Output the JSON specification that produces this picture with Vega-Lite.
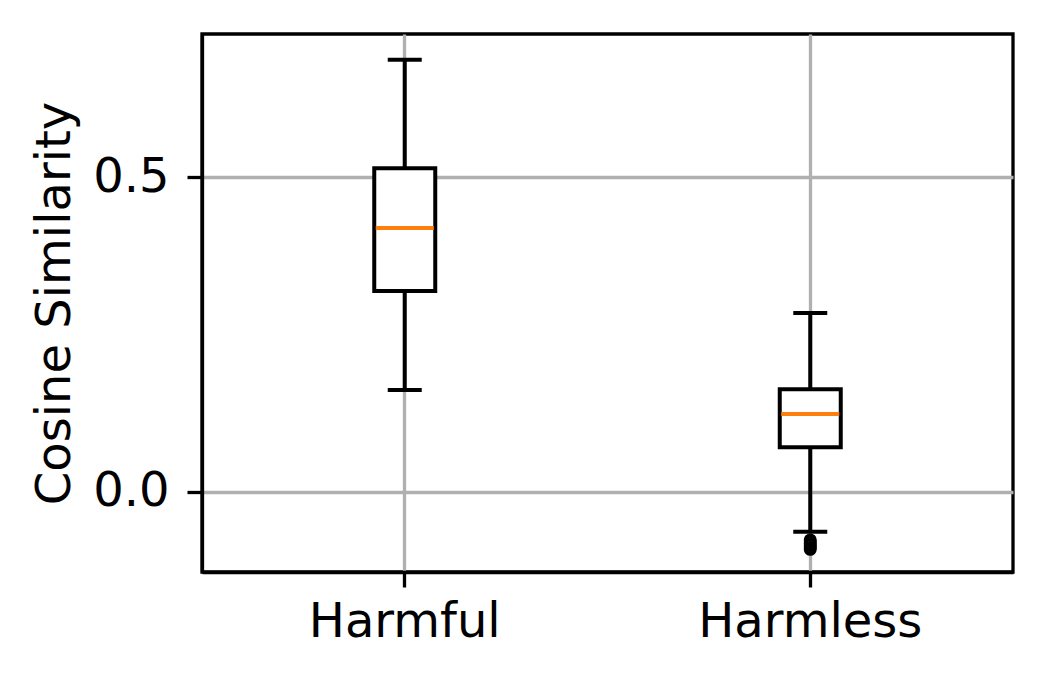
{
  "$schema": "https://vega.github.io/schema/vega-lite/v6.json",
  "width": 811,
  "height": 538,
  "autosize": {"type": "none"},
  "padding": {"left": 202, "top": 34, "right": 35, "bottom": 116},
  "background": "white",
  "config": {
    "view": {"stroke": "black", "strokeWidth": 3.3},
    "font": "DejaVu Sans",
    "axis": {
      "labelFont": "DejaVu Sans",
      "titleFont": "DejaVu Sans",
      "labelFontSize": 48,
      "titleFontSize": 48,
      "titleFontWeight": "normal",
      "labelColor": "black",
      "titleColor": "black",
      "labelLimit": 0,
      "domainColor": "black",
      "domainWidth": 3.3,
      "tickColor": "black",
      "tickWidth": 3.3,
      "tickSize": 15,
      "labelPadding": 18,
      "gridColor": "#b0b0b0",
      "gridWidth": 3.3
    }
  },
  "datasets": {
    "stats": [
      {"group": "Harmful", "low": 0.162, "q1": 0.319, "median": 0.419, "q3": 0.514, "high": 0.686},
      {"group": "Harmless", "low": -0.063, "q1": 0.071, "median": 0.124, "q3": 0.163, "high": 0.284}
    ],
    "outliers": [
      {"group": "Harmless", "value": -0.076},
      {"group": "Harmless", "value": -0.079},
      {"group": "Harmless", "value": -0.082},
      {"group": "Harmless", "value": -0.085},
      {"group": "Harmless", "value": -0.088},
      {"group": "Harmless", "value": -0.091}
    ]
  },
  "encoding": {
    "x": {
      "field": "group",
      "type": "nominal",
      "scale": {"domain": ["Harmful", "Harmless"], "paddingInner": 0, "paddingOuter": 0},
      "axis": {"title": null, "labelAngle": 0, "grid": true, "bandPosition": 0.5, "labelPadding": 11}
    }
  },
  "layer": [
    {
      "data": {"name": "stats"},
      "mark": {"type": "rule", "color": "black", "strokeWidth": 4, "opacity": 1},
      "encoding": {
        "y": {
          "field": "low",
          "type": "quantitative",
          "scale": {"domain": [-0.127, 0.727], "nice": false, "zero": false},
          "axis": {"title": "Cosine Similarity", "values": [0, 0.5], "format": ".1f", "grid": true, "titlePadding": 13}
        },
        "y2": {"field": "high"}
      }
    },
    {
      "data": {"name": "stats"},
      "mark": {"type": "bar", "size": 61, "fill": "white", "stroke": "black", "strokeWidth": 4, "opacity": 1},
      "encoding": {
        "y": {"field": "q1", "type": "quantitative"},
        "y2": {"field": "q3"}
      }
    },
    {
      "data": {"name": "stats"},
      "mark": {"type": "tick", "color": "#ff7f0e", "size": 58, "thickness": 4, "opacity": 1},
      "encoding": {"y": {"field": "median", "type": "quantitative"}}
    },
    {
      "data": {"name": "stats"},
      "mark": {"type": "tick", "color": "black", "size": 34, "thickness": 4, "opacity": 1},
      "encoding": {"y": {"field": "low", "type": "quantitative"}}
    },
    {
      "data": {"name": "stats"},
      "mark": {"type": "tick", "color": "black", "size": 34, "thickness": 4, "opacity": 1},
      "encoding": {"y": {"field": "high", "type": "quantitative"}}
    },
    {
      "data": {"name": "outliers"},
      "mark": {"type": "point", "shape": "circle", "filled": false, "stroke": "black", "strokeWidth": 2.5, "size": 110, "opacity": 1},
      "encoding": {"y": {"field": "value", "type": "quantitative"}}
    }
  ]
}
